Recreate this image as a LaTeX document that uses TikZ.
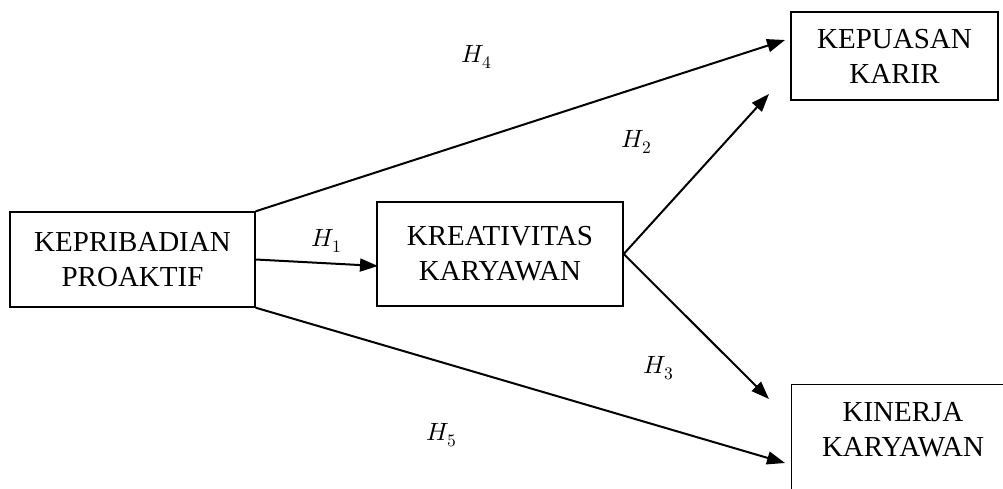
\documentclass[tikz,border=0pt]{standalone}
\usepackage{unicode-math}
\setmainfont{Liberation Serif}
\setmathfont{Latin Modern Math}
\usetikzlibrary{arrows.meta}
\tikzset{
  boxnode/.style={draw, line width=1.4pt, align=center, inner sep=0pt,
    font=\fontsize{29}{35}\selectfont},
  txtnode/.style={align=center, inner sep=0pt, font=\fontsize{29}{35}\selectfont},
  arr/.style={line width=2pt, -{Triangle[length=18pt,width=13pt]}},
  hlab/.style={inner sep=0pt, font=\fontsize{25}{30}\selectfont}
}
\begin{document}
\begin{tikzpicture}[x=1pt,y=-1pt]
\useasboundingbox (0,0) rectangle (1003,489);
\clip (0,0) rectangle (1003,489);
\fill[white] (0,0) rectangle (1003,489);
\node[boxnode, minimum width=245pt, minimum height=95pt] (kp) at (132.5,259.5) {KEPRIBADIAN\\PROAKTIF};
\node[boxnode, minimum width=246pt, minimum height=104pt] (kr) at (500,254) {KREATIVITAS\\KARYAWAN};
\node[boxnode, minimum width=207pt, minimum height=88pt] (kk) at (894.5,56) {KEPUASAN\\KARIR};
\node[draw, line width=1.4pt, minimum width=230pt, minimum height=130pt, anchor=north west, inner sep=0pt] (kn) at (791,384) {};
\node[txtnode] (kntxt) at (903,430) {KINERJA\\KARYAWAN};
\coordinate (t4) at (785,40);
\coordinate (t2) at (769,94);
\coordinate (t3) at (769,399);
\coordinate (t5) at (785,463);
\coordinate (t1) at (378,266);
\draw[arr] (kp.north east) -- (t4);
\draw[arr] (kp.east) -- (t1);
\draw[arr] (kp.south east) -- (t5);
\draw[arr] (kr.east) -- (t2);
\draw[arr] (kr.east) -- (t3);
\node[hlab] (h4) at (477,57) {$H_4$};
\node[hlab] (h2) at (637,142) {$H_2$};
\node[hlab] (h1) at (327,241) {$H_1$};
\node[hlab] (h3) at (659,368) {$H_3$};
\node[hlab] (h5) at (442,435) {$H_5$};
\end{tikzpicture}
\end{document}
